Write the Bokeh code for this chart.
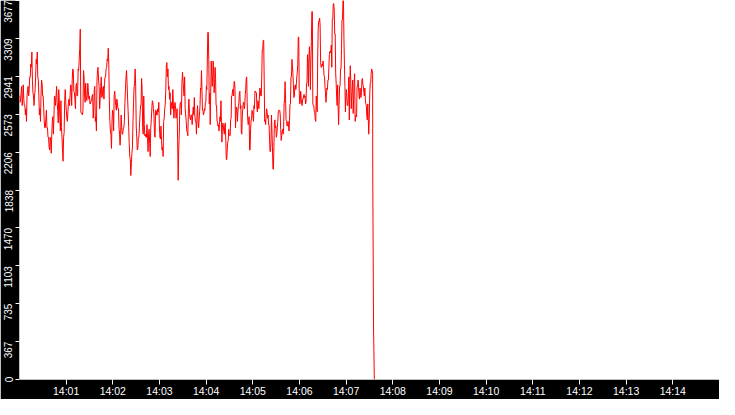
from datetime import datetime, timedelta
from bokeh.plotting import figure
from bokeh.models import Range1d, FixedTicker
from bokeh.embed import file_html
from bokeh.resources import INLINE

base = datetime(2024, 1, 1, 14, 0, 0)

y_ticks = [0, 367.7, 735.4, 1103.1, 1470.8, 1838.5, 2206.2, 2573.9, 2941.6, 3309.3, 3677]
y_labels = ["0", "367", "735", "1103", "1470", "1838", "2206", "2573", "2941", "3309", "3677"]
x_tick_minutes = [1, 2, 3, 4, 5, 6, 7, 8, 9, 10, 11, 12, 13, 14]
x_labels = ["14:01", "14:02", "14:03", "14:04", "14:05", "14:06", "14:07",
            "14:08", "14:09", "14:10", "14:11", "14:12", "14:13", "14:14"]

# readings (pairs of successive samples), seconds after 14:00:00
block_a_span = (0.0, 229.6)
block_a = [
    (2751, 2689), (2782, 2720), (2844, 2658), (2859, 2720), (2720, 2658), (2658, 2566), (2504, 2627),
    (2751, 2813), (2844, 2751), (2936, 2813), (3060, 2936), (3177, 3029), (2905, 2782), (2658, 2751),
    (2751, 2813), (3106, 2936), (3177, 3060), (2936, 2905), (2751, 2566), (2504, 2627), (2905, 2751),
    (2874, 2751), (2627, 2751), (2504, 2442), (2442, 2535), (2442, 2612), (2442, 2350), (2257, 2350),
    (2350, 2226), (2195, 2319), (2504, 2380), (2550, 2380), (2751, 2535), (2736, 2658), (2844, 2751),
    (2689, 2612), (2813, 2489), (2705, 2535), (2705, 2411), (2442, 2350), (2118, 2226), (2396, 2350),
    (2705, 2813), (2689, 2612), (2535, 2504), (2689, 2597), (2720, 2658), (2859, 2751), (2844, 2658),
    (3013, 2905), (2998, 2797), (2720, 2782), (2844, 2627), (2874, 2751), (3013, 2751), (3106, 2998),
    (3399, 3214), (2597, 2581), (2581, 2566), (2998, 2612), (2936, 2751), (2874, 2689), (2751, 2705),
    (2874, 2751), (2797, 2720), (2751, 2674), (2705, 2674), (2751, 2705), (2766, 2535), (2813, 2627),
    (2844, 2504), (2550, 2411), (2890, 2998), (3029, 2905), (2844, 2627), (2844, 2720), (2936, 2736),
    (2828, 2751), (2844, 2720), (2936, 2874), (3013, 2936), (3106, 3029), (3214, 3090), (3060, 2720),
    (2411, 2504), (2380, 2242), (2612, 2504), (2597, 2411), (2797, 2751), (2720, 2658), (2720, 2612),
    (2689, 2627), (2627, 2442), (2273, 2380), (2566, 2380), (2442, 2380), (2442, 2380), (2442, 2504),
    (2813, 2689), (2998, 2936), (2874, 2720), (2597, 2442), (2164, 2288), (1979, 2134), (2103, 2195),
    (2504, 2257), (2828, 2689), (3013, 2874), (2844, 2458), (2226, 2350), (2350, 2242), (2458, 2350),
    (2658, 2566), (2921, 2658), (2813, 2442), (2751, 2380), (2473, 2365), (2380, 2350), (2473, 2350),
    (2350, 2211), (2427, 2380), (2164, 2288), (2519, 2442), (2705, 2627), (2689, 2627), (2566, 2380),
    (2612, 2350), (2612, 2566), (2627, 2566), (2689, 2597), (2473, 2350), (2458, 2334), (2319, 2226),
    (2164, 2257), (2535, 2504), (2674, 2627), (3044, 2813), (3075, 2936), (3013, 2813), (2844, 2720),
    (2782, 2566), (2689, 2658), (2813, 2627), (2689, 2535), (2689, 2627), (2658, 2535), (2627, 2566),
    (2319, 1933), (2226, 2380), (2689, 2627), (2689, 2566), (2982, 2874), (2905, 2813), (2936, 2751),
    (2627, 2566), (2504, 2411), (2396, 2365), (2720, 2627), (2581, 2535), (2566, 2519), (2566, 2473),
    (2643, 2566), (2736, 2566), (2566, 2504), (2504, 2380), (2658, 2566), (2442, 2504),
]

block_b_span = (232.1, 342.1)
block_b = [
    (2828, 2658), (2998, 2813), (2813, 2612), (2612, 2566), (2627, 2581), (2689, 2612), (2844, 2689),
    (3090, 2813), (3368, 3368), (3106, 2674), (2782, 2473), (3090, 2782), (2967, 2844), (3090, 2936),
    (2982, 2782), (3029, 2874), (2921, 2658), (2658, 2504), (2504, 2458), (2473, 2411), (2550, 2473),
    (2705, 2504), (2504, 2303), (2489, 2442), (2458, 2411), (2473, 2380), (2489, 2319), (2134, 2134),
    (2303, 2226), (2427, 2319), (2380, 2365), (2519, 2365), (2751, 2535), (2813, 2751), (2813, 2751),
    (2890, 2890), (2813, 2442), (2643, 2566), (2627, 2504), (2658, 2597), (2782, 2689), (2797, 2627),
    (2658, 2396), (2566, 2380), (2689, 2627), (2689, 2627), (2766, 2658), (2921, 2813), (2936, 2689),
    (2535, 2473), (2550, 2489), (2226, 2226), (2504, 2427), (2612, 2535), (2597, 2550), (2658, 2504),
    (2797, 2627), (2797, 2782), (2782, 2643), (2705, 2597), (2689, 2627), (2828, 2720), (2813, 2751),
    (2936, 2751), (3199, 3199), (3291, 3291), (2905, 2504), (2519, 2473), (2627, 2566), (2597, 2535),
    (2566, 2473), (2473, 2334), (2211, 2211), (2566, 2319), (2411, 2257), (2041, 2041), (2489, 2257),
    (2519, 2442), (2458, 2350), (2442, 2380), (2597, 2504), (2612, 2612), (2612, 2566), (2427, 2319),
    (2411, 2365), (2427, 2380), (2674, 2442), (2890, 2720), (2720, 2519),
]

block_c_span = (343.4, 453.4)
block_c = [
    (2504, 2458), (2504, 2473), (2458, 2411), (2674, 2504), (2936, 2674), (3106, 2936), (3044, 2967),
    (2859, 2736), (2844, 2751), (2859, 2813), (2936, 2859), (3060, 2982), (3322, 3322), (2797, 2674),
    (2797, 2689), (2720, 2674), (2720, 2658), (2751, 2720), (2766, 2736), (2751, 2674), (2874, 2689),
    (3152, 2874), (3090, 2844), (3229, 3121), (3090, 2813), (3276, 3090), (3569, 3569), (2674, 2658),
    (2658, 2597), (2597, 2519), (2751, 2504), (2658, 2597), (3399, 3121), (3476, 3476), (3507, 3430),
    (3075, 3029), (3060, 3029), (3090, 3044), (3029, 2952), (2936, 2844), (2782, 2689), (2828, 2751),
    (2905, 2813), (3029, 2905), (3183, 3152), (3183, 3168), (3245, 3029), (3492, 3492), (3646, 3646),
    (3584, 3353), (3353, 2967), (2874, 2736), (2859, 2658), (2643, 2473), (2844, 2658), (3013, 2844),
    (3214, 3013), (3492, 3492), (3677, 3677), (3307, 3060), (2844, 2597), (2813, 2751), (2736, 2658),
    (2751, 2658), (2936, 2519), (3044, 2844), (2905, 2627), (2828, 2751), (2905, 2581), (2890, 2720),
    (2967, 2504), (2566, 2535), (2844, 2550), (2905, 2844), (2859, 2751), (2828, 2720), (2782, 2736),
    (2905, 2782), (2921, 2859), (2844, 2782), (2828, 2751), (2720, 2674), (2658, 2566), (2674, 2519),
    (2535, 2380), (2751, 2519), (2874, 2874), (3013, 2967), (2998, 2961),
]

drop_values = [1983, 509, 0]
drop_start = 454.2
drop_step = 1.0

# assemble the series
secs, vals = [], []
prev = None
for block, (t0, t1) in ((block_a, block_a_span), (block_b, block_b_span), (block_c, block_c_span)):
    step = (t1 - t0) / (len(block) - 1)
    for i, (a, b) in enumerate(block):
        if prev is not None and abs(b - prev) < abs(a - prev):
            a, b = b, a
        t = t0 + i * step
        secs += [t, t + step / 2]
        vals += [a, b]
        prev = b
for j, v in enumerate(drop_values):
    secs.append(drop_start + j * drop_step)
    vals.append(v)

times = [base + timedelta(seconds=s) for s in secs]

epoch = datetime(1970, 1, 1)
base_ms = int((base - epoch).total_seconds() * 1000)
x_ticks = [base_ms + m * 60000 for m in x_tick_minutes]

p = figure(width=719, height=399, x_axis_type="datetime",
           x_range=Range1d(base, base + timedelta(minutes=15)),
           y_range=Range1d(0, 3677),
           output_backend="svg", toolbar_location=None,
           background_fill_color="white", border_fill_color="black",
           min_border_left=15, min_border_bottom=18, min_border_top=0, min_border_right=0)
p.outline_line_color = None
p.grid.visible = False

p.line(times, vals, line_color="red", line_width=1)

xa = p.xaxis[0]
xa.ticker = FixedTicker(ticks=x_ticks)
xa.major_label_overrides = {t: lab for t, lab in zip(x_ticks, x_labels)}
xa.axis_line_color = None
xa.major_tick_line_color = "white"
xa.major_tick_out = 5
xa.major_tick_in = 0
xa.minor_tick_line_color = None
xa.major_label_standoff = 0
xa.major_label_text_color = "white"
xa.major_label_text_font = "Liberation Sans"
xa.major_label_text_font_size = "10.5px"

ya = p.yaxis[0]
ya.ticker = FixedTicker(ticks=y_ticks)
pad = "\u2007"
# labels sit just below their tick (text ends at the tick); end labels stay centred
ya.major_label_overrides = {t: (lab if lab in ("0", "3677") else lab + pad * len(lab))
                            for t, lab in zip(y_ticks, y_labels)}
ya.major_label_orientation = "vertical"
ya.axis_line_color = None
ya.major_tick_line_color = "white"
ya.major_tick_out = 4
ya.major_tick_in = 0
ya.minor_tick_line_color = None
ya.major_label_standoff = 1
ya.major_label_text_color = "white"
ya.major_label_text_font = "Liberation Sans"
ya.major_label_text_font_size = "10px"

open("out.html", "w").write(file_html(p, INLINE))
